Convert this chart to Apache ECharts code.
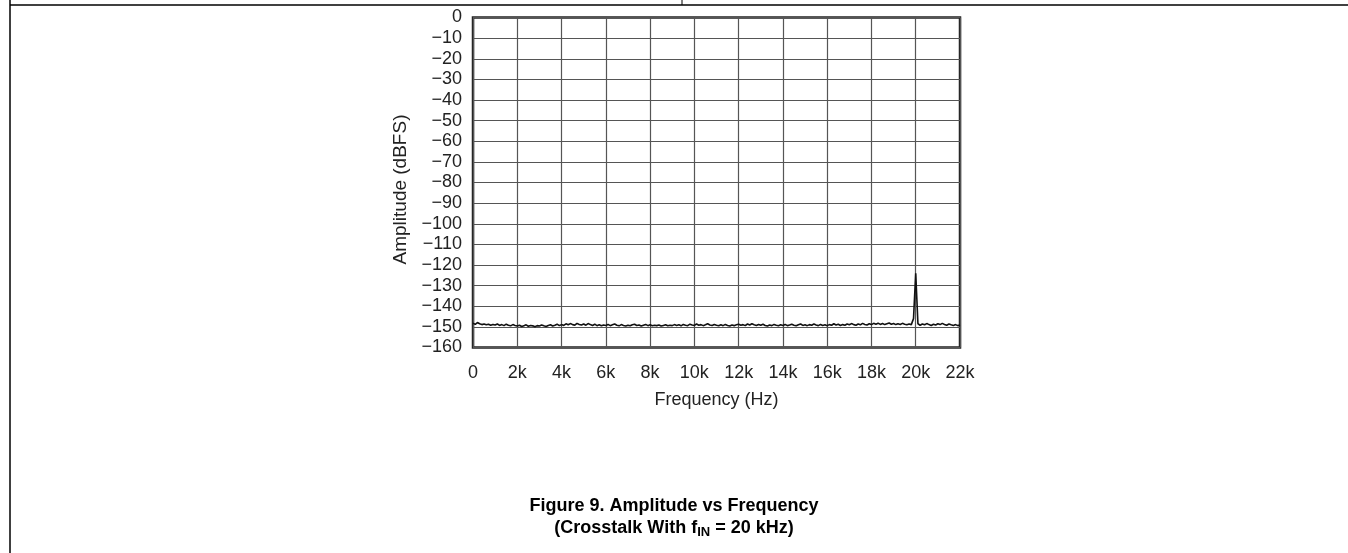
<!DOCTYPE html>
<html>
<head>
<meta charset="utf-8">
<script src="https://cdn.jsdelivr.net/npm/echarts@6/dist/echarts.min.js"></script>
<style>
html,body{margin:0;padding:0;background:#fff;}
#chart{width:1348px;height:553px;}
</style>
</head>
<body>
<div id="chart"></div>
<script>
// ---- data ----
var FREQ_STEP = 100; // Hz between samples, starting at 0 Hz
var amplitude = [
 -148.2,-148.8,-147.9,-148.5,-148.9,-148.6,-149.0,-148.7,-149.2,-148.8,
 -149.1,-148.6,-149.3,-148.9,-149.4,-148.7,-149.2,-149.5,-148.9,-149.3,
 -149.6,-149.2,-149.8,-149.4,-149.0,-149.7,-149.3,-149.5,-149.9,-149.4,
 -149.6,-149.1,-149.5,-149.8,-149.3,-149.0,-149.6,-149.2,-148.7,-149.4,
 -148.9,-149.3,-148.5,-149.0,-148.4,-148.9,-149.2,-148.3,-148.8,-149.1,
 -148.6,-149.2,-148.4,-148.9,-149.3,-148.7,-149.4,-149.0,-149.5,-149.1,
 -149.3,-148.8,-149.4,-149.0,-148.6,-149.2,-149.5,-148.9,-149.3,-149.6,
 -149.2,-149.5,-149.0,-148.7,-149.3,-149.1,-149.6,-149.2,-148.8,-149.4,
 -149.0,-149.5,-149.2,-149.4,-149.1,-149.6,-149.3,-149.0,-149.5,-149.2,
 -149.4,-148.9,-149.3,-149.0,-149.5,-148.8,-149.2,-149.4,-148.7,-149.1,
 -149.3,-148.6,-149.2,-148.9,-149.4,-149.0,-148.5,-149.1,-149.3,-148.8,
 -149.2,-149.5,-149.0,-149.4,-148.8,-149.3,-149.6,-149.1,-149.4,-149.0,
 -148.7,-149.2,-148.9,-149.4,-148.6,-149.1,-148.5,-149.0,-149.3,-148.8,
 -149.2,-148.7,-149.3,-149.6,-149.1,-149.4,-148.8,-149.2,-149.5,-149.0,
 -149.3,-148.8,-149.4,-149.1,-148.7,-149.2,-149.5,-149.0,-148.6,-149.3,
 -149.0,-149.4,-148.9,-149.2,-148.6,-149.1,-149.4,-148.8,-149.3,-149.0,
 -149.4,-148.9,-149.2,-148.5,-149.1,-148.7,-149.3,-148.9,-149.2,-148.6,
 -149.0,-148.4,-148.9,-149.2,-148.6,-149.0,-148.3,-148.8,-149.1,-148.5,
 -148.9,-148.3,-148.7,-148.2,-148.8,-148.4,-148.9,-148.5,-148.1,-148.7,
 -148.4,-148.9,-148.5,-148.8,-148.3,-148.7,-149.0,-148.6,-148.9,-146.0,
 -124.0,
 -148.5,-149.2,-148.6,-149.0,-148.4,-148.9,-149.3,-148.7,-149.1,-148.5,
 -148.9,-148.3,-148.8,-149.2,-148.6,-149.0,-149.3,-148.9,-149.4,-149.1
];
var xTicks = {min: 0, max: 22000, interval: 2000};
var yTicks = {min: -160, max: 0, interval: 10};
var xAxisTitle = 'Frequency (Hz)';
var yAxisTitle = 'Amplitude (dBFS)';
var captionLine1 = 'Figure 9. Amplitude vs Frequency';

var seriesData = amplitude.map(function (v, i) { return [i * FREQ_STEP, v]; });

var FONT = '"Liberation Sans", Arial, sans-serif';
var chart = echarts.init(document.getElementById('chart'), null, {renderer: 'canvas'});
chart.setOption({
  animation: false,
  backgroundColor: '#fff',
  grid: {left: 473, top: 17.5, right: 388, bottom: 205.5, show: true,
         borderColor: '#222', borderWidth: 2.5, backgroundColor: 'transparent'},
  xAxis: {
    type: 'value', min: xTicks.min, max: xTicks.max, interval: xTicks.interval,
    name: xAxisTitle, nameLocation: 'middle', nameGap: 44,
    nameTextStyle: {fontFamily: FONT, fontSize: 18, color: '#222'},
    axisLine: {show: false}, axisTick: {show: false},
    axisLabel: {fontFamily: FONT, fontSize: 18, color: '#222', margin: 17,
      formatter: function (v) { return v === 0 ? '0' : (v / 1000) + 'k'; }},
    splitLine: {show: true, lineStyle: {color: '#555', width: 1.2}}
  },
  yAxis: {
    type: 'value', min: yTicks.min, max: yTicks.max, interval: yTicks.interval,
    name: yAxisTitle, nameLocation: 'middle', nameGap: 63, nameRotate: 90,
    nameTextStyle: {fontFamily: FONT, fontSize: 19, color: '#222', padding: [0, 14, 0, 0]},
    axisLine: {show: false}, axisTick: {show: false},
    axisLabel: {fontFamily: FONT, fontSize: 18, color: '#222', margin: 11,
      formatter: function (v) { return v < 0 ? '\u2212' + Math.abs(v) : '0'; }},
    splitLine: {show: true, lineStyle: {color: '#555', width: 1.2}}
  },
  series: [{
    type: 'line', data: seriesData, showSymbol: false, symbol: 'none',
    lineStyle: {color: '#111', width: 1.6}, z: 3
  }],
  graphic: [
    {type: 'line', shape: {x1: 10, y1: 5, x2: 1348, y2: 5}, style: {stroke: '#000', lineWidth: 1.5}, silent: true},
    {type: 'line', shape: {x1: 10, y1: 0, x2: 10, y2: 553}, style: {stroke: '#000', lineWidth: 1.5}, silent: true},
    {type: 'line', shape: {x1: 682, y1: 0, x2: 682, y2: 5}, style: {stroke: '#000', lineWidth: 1}, silent: true},
    {type: 'text', left: 'center', top: 497, style: {
      text: captionLine1, font: 'bold 18px ' + FONT, fill: '#000', textAlign: 'center'}},
    {type: 'text', left: 'center', top: 519, style: {
      rich: {
        b: {font: 'bold 18px ' + FONT, fill: '#000'},
        s: {font: 'bold 13px ' + FONT, fill: '#000', padding: [9, 0, 0, 0]}
      },
      text: '{b|(Crosstalk With f}{s|IN}{b| = 20 kHz)}'
    }}
  ]
});
</script>
</body>
</html>
